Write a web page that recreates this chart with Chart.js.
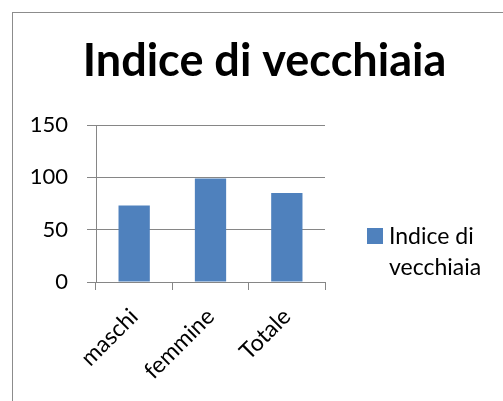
<!DOCTYPE html>
<html>
<head>
<meta charset="utf-8">
<script src="https://cdn.jsdelivr.net/npm/chart.js@4.4.1/dist/chart.umd.min.js"></script>
<style>
  html, body { margin: 0; padding: 0; overflow: hidden; background: #fff; }
  #frame {
    position: absolute; left: 12px; top: 12px;
    width: 503px; height: 401px;
    border-left: 1px solid #8c8c8c; border-top: 1px solid #8c8c8c;
  }
</style>
</head>
<body>
<div id="frame"><canvas id="myChart" width="503" height="401"></canvas></div>
<script>
let categories = ['maschi', 'femmine', 'Totale'];
let values = [73, 99, 85]; // indice di vecchiaia
let yTicks = [0, 50, 100, 150];
let seriesName = 'Indice di vecchiaia';
let legendLines = ['Indice di', 'vecchiaia'];

const barColor = '#4F81BD';
const gridColor = '#868686';
const fontFamily = 'Lato, "Open Sans", sans-serif';

// legend on the right, wrapped on two lines; it is a layout box so the title stays centred
const sideLegend = {
    id: 'sideLegend',
    beforeInit(chart) {
        const box = {
            position: 'right',
            weight: 0,
            fullSize: false,
            options: {},
            isHorizontal() { return false; },
            update(maxWidth, maxHeight) {
                this.width = 191;
                this.height = maxHeight;
            },
            draw() {
                const ctx = chart.ctx;
                const x = this.left + 42;
                const y = chart.chartArea.top + 103;
                ctx.save();
                ctx.fillStyle = barColor;
                ctx.fillRect(x, y, 16, 16);
                ctx.fillStyle = '#000';
                ctx.font = '23px ' + fontFamily;
                ctx.textBaseline = 'middle';
                ctx.textAlign = 'left';
                legendLines.forEach((line, i) => {
                    ctx.fillText(line, x + 22, y + 9 + i * 31);
                });
                ctx.restore();
            }
        };
        Chart.layouts.addBox(chart, box);
    }
};

const chart = document.getElementById('myChart').getContext('2d');
const myChart = new Chart(chart, {
    type: 'bar',
    data: {
        labels: categories,
        datasets: [{
            label: seriesName,
            data: values,
            backgroundColor: barColor,
            categoryPercentage: 1,
            barPercentage: 0.41
        }]
    },
    options: {
        responsive: false,
        animation: false,
        layout: { padding: 0 },
        scales: {
            x: {
                offset: true,
                grid: {
                    display: true,
                    drawOnChartArea: false,
                    offset: true,
                    color: gridColor,
                    tickLength: 8
                },
                border: { color: gridColor },
                ticks: {
                    color: '#000',
                    font: { family: fontFamily, size: 23 },
                    minRotation: 45,
                    maxRotation: 45,
                    padding: 13
                },
                afterFit(scale) { scale.height = 132; }
            },
            y: {
                min: 0,
                max: 150,
                afterBuildTicks(scale) {
                    scale.ticks = yTicks.map(v => ({ value: v }));
                },
                grid: { color: gridColor, tickLength: 9 },
                border: { color: gridColor },
                ticks: {
                    color: '#000',
                    font: { family: fontFamily, size: 22 },
                    padding: 19
                },
                afterFit(scale) { scale.width = 83; }
            }
        },
        plugins: {
            legend: { display: false },
            tooltip: { enabled: false },
            title: {
                display: true,
                text: seriesName,
                color: '#000',
                font: { family: fontFamily, size: 45, weight: 'bold' },
                padding: { top: 21, bottom: 37 }
            }
        }
    },
    plugins: [sideLegend]
});
</script>
</body>
</html>
